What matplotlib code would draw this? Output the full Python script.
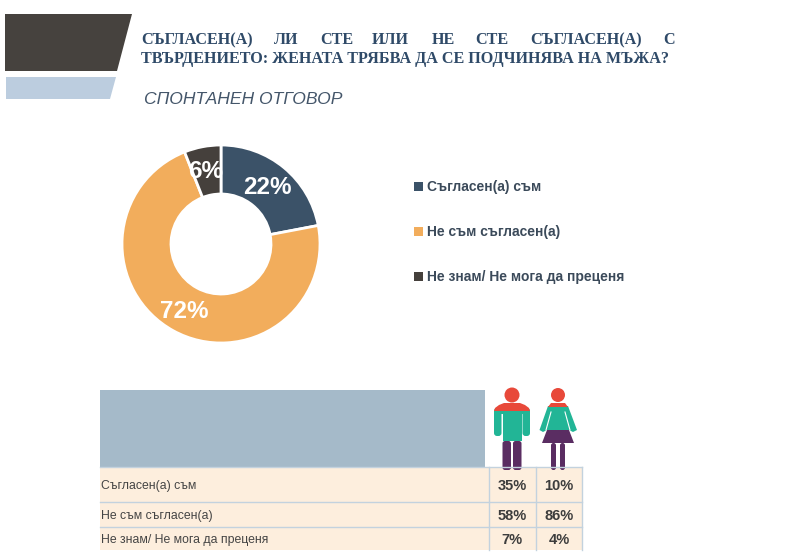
import matplotlib
matplotlib.use("Agg")
import matplotlib.pyplot as plt
from matplotlib.patches import Polygon, Circle, Rectangle, FancyBboxPatch

categories = ["Съгласен(а) съм", "Не съм съгласен(а)", "Не знам/ Не мога да преценя"]
overall = [22, 72, 6]
men = [35, 58, 7]
women = [10, 86, 4]
colors = ["#3b5268", "#f2ad5c", "#45403c"]
title_words = ["СЪГЛАСЕН(А)", "ЛИ", "СТЕ", "ИЛИ", "НЕ", "СТЕ", "СЪГЛАСЕН(А)", "С"]
title_x = [141, 274, 320, 372, 432, 475, 530, 663]
title_line2 = "ТВЪРДЕНИЕТО: ЖЕНАТА ТРЯБВА ДА СЕ ПОДЧИНЯВА НА МЪЖА?"
subtitle = "СПОНТАНЕН ОТГОВОР"

W, H = 805, 553
fig = plt.figure(figsize=(W / 100, H / 100), dpi=100, facecolor="white")
bg = fig.add_axes([0, 0, 1, 1])
bg.set_xlim(0, W)
bg.set_ylim(H, 0)
bg.axis("off")

# Header shapes
bg.add_patch(Polygon([(5, 14), (132, 14), (117, 71), (5, 71)], fc="#46423e", ec="none"))
bg.add_patch(Polygon([(6, 77), (116, 77), (110, 99), (6, 99)], fc="#bccddf", ec="none"))

navy = "#2f4a68"
for w, x in zip(title_words, title_x):
    bg.text(x, 40, w, family="Liberation Serif", weight="bold", fontsize=11.6,
            color=navy, va="center", ha="left")
bg.text(141, 59, title_line2, family="Liberation Serif", weight="bold", fontsize=11.65,
        color=navy, va="center", ha="left")
bg.text(144, 99, subtitle, family="Liberation Sans", style="italic", fontsize=12.6,
        color="#44566a", va="center", ha="left")

# Donut
cx, cy, r = 221, 244, 99
pie = fig.add_axes([(cx - r) / W, 1 - (cy + r) / H, 2 * r / W, 2 * r / H])
pie.pie(overall, colors=colors, startangle=90, counterclock=False, radius=1,
        wedgeprops=dict(width=0.495, edgecolor="white", linewidth=2))
pie.set_xlim(-1, 1)
pie.set_ylim(-1, 1)
pie.set_aspect("equal")
for (x, y), v in zip([(267, 188), (184, 311), (206, 171)], overall):
    bg.text(x, y, f"{v}%", family="Liberation Sans", weight="bold", fontsize=17.5,
            color="white", ha="center", va="center", zorder=5)
bg.set_zorder(1)
bg.patch.set_alpha(0)
pie.set_zorder(0)

# Legend
for y, c, lab in zip([186, 231, 276], colors, categories):
    bg.add_patch(Rectangle((414, y - 4), 9, 9, fc=c, ec="none"))
    bg.text(427, y + 1, lab, family="Liberation Sans", weight="bold", fontsize=10,
            color="#3b4a5a", va="center", ha="left")

# Table
bg.add_patch(Rectangle((100, 390), 385, 77, fc="#a5bac9", ec="none"))
row_y = [467, 502, 527, 550]
col_x = [100, 489, 536, 582]
grid = "#c3d2de"
bg.add_patch(Rectangle((100, 467), 482, 83, fc="#fdeedd", ec="none"))
for y in row_y[:-1]:
    bg.plot([100, 582], [y, y], color=grid, lw=1)
for x in col_x[1:]:
    bg.plot([x, x], [467, 550], color=grid, lw=1)
for i, lab in enumerate(categories):
    ym = (row_y[i] + row_y[i + 1]) / 2 + 2
    bg.text(101, ym, lab, family="Liberation Sans", fontsize=8.8,
            color="#444444", va="center", ha="left")
    bg.text(512, ym, f"{men[i]}%", family="Liberation Sans", weight="bold",
            fontsize=10.5, color="#3d3d3d", va="center", ha="center")
    bg.text(559, ym, f"{women[i]}%", family="Liberation Sans", weight="bold",
            fontsize=10.5, color="#3d3d3d", va="center", ha="center")

# Icons
red, teal, purple = "#e8493a", "#22b596", "#5a2d62"
def box(x0, y0, x1, y1, c, rad=2):
    bg.add_patch(FancyBboxPatch((x0 + rad, y0 + rad), x1 - x0 - 2 * rad, y1 - y0 - 2 * rad,
                                boxstyle=f"round,pad={rad},rounding_size={rad}",
                                fc=c, ec="none"))
# Man
bg.add_patch(Circle((512, 395), 7.5, fc=red, ec="none"))
box(494, 408, 501.5, 436, teal, 3)
box(522.5, 408, 530, 436, teal, 3)
bg.add_patch(Rectangle((494, 411), 36, 3, fc=teal, ec="none"))
bg.add_patch(Rectangle((502.5, 411), 19, 30, fc=teal, ec="none"))
bg.add_patch(Polygon([(494, 411), (495, 408), (499, 405), (504, 403), (520, 403),
                      (525, 405), (529, 408), (530, 411)], fc=red, ec="none"))
box(502.5, 441, 511, 470, purple, 2.5)
box(513, 441, 521.5, 470, purple, 2.5)
# Woman
bg.add_patch(Circle((558, 395), 7, fc=red, ec="none"))
bg.add_patch(Polygon([(548, 406), (568, 406), (577, 430), (573, 432), (569, 430),
                      (547, 430), (543, 432), (539.5, 430)], fc=teal, ec="none"))
bg.plot([551, 546], [412, 430], color="white", lw=0.8)
bg.plot([565, 570], [412, 430], color="white", lw=0.8)
bg.add_patch(Polygon([(548, 407), (551, 403), (565, 403), (568, 407)], fc=red, ec="none"))
bg.add_patch(Polygon([(547, 430), (569, 430), (574, 443), (542, 443)], fc=purple, ec="none"))
box(551, 443, 556, 470, purple, 2.4)
box(560, 443, 565, 470, purple, 2.4)

fig.savefig("out.png", dpi=100, facecolor="white")
